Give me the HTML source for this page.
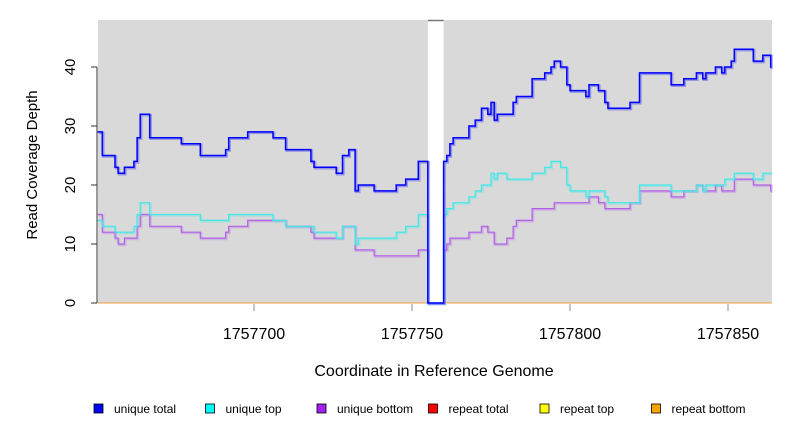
<!DOCTYPE html>
<html><head><meta charset="utf-8"><style>
body{margin:0;background:#fff;}
svg{display:block;font-family:"Liberation Sans",sans-serif;}
</style></head><body>
<svg id="chart" width="792" height="432" viewBox="0 0 792 432" xmlns="http://www.w3.org/2000/svg">
<rect x="98" y="20" width="674" height="283" fill="#d9d9d9"/>
<g id="gap"></g>
<g id="series"></g>
<g id="axes"></g>
<text transform="translate(37,165) rotate(-90)" text-anchor="middle" font-size="15" fill="#000">Read Coverage Depth</text>
<text x="434" y="376" text-anchor="middle" font-size="16" fill="#000">Coordinate in Reference Genome</text>
<g id="legend"></g>
</svg>
<script>
const xTicks=[1757700,1757750,1757800,1757850];
const yTicks=[0,10,20,30,40];
const gapRange=[1757755,1757760];
const totalPos=[1757650.5,1757652,1757656,1757657,1757659,1757662,1757663,1757664,1757667,1757677,1757683,1757691,1757692,1757698,1757706,1757710,1757718,1757719,1757726,1757728,1757730,1757732,1757733,1757738,1757745,1757748,1757752,1757755,1757760,1757761,1757762,1757763,1757768,1757770,1757772,1757774,1757775,1757776,1757777,1757782,1757783,1757788,1757792,1757794,1757795,1757797,1757799,1757800,1757805,1757806,1757809,1757811,1757812,1757819,1757822,1757832,1757836,1757840,1757842,1757843,1757846,1757848,1757849,1757851,1757852,1757858,1757861,1757863.5];
const totalVal=[29,25,23,22,23,24,28,32,28,27,25,26,28,29,28,26,24,23,22,25,26,19,20,19,20,21,24,0,24,25,27,28,30,31,33,32,34,31,32,34,35,38,39,40,41,40,37,36,35,37,36,34,33,34,39,37,38,39,38,39,40,39,40,41,43,41,42,40];
const topPos=[1757650.5,1757652,1757656,1757662,1757663,1757664,1757667,1757683,1757692,1757706,1757710,1757719,1757726,1757728,1757732,1757733,1757745,1757748,1757752,1757755,1757760,1757761,1757763,1757768,1757770,1757772,1757775,1757776,1757777,1757780,1757788,1757792,1757794,1757797,1757799,1757800,1757805,1757806,1757811,1757812,1757822,1757832,1757840,1757842,1757843,1757849,1757852,1757858,1757861];
const topVal=[14,13,12,13,15,17,15,14,15,14,13,12,11,13,10,11,12,13,15,0,15,16,17,18,19,20,22,21,22,21,22,23,24,23,20,19,18,19,18,17,20,19,20,19,20,21,22,21,22];
const botPos=[1757650.5,1757652,1757656,1757657,1757659,1757663,1757664,1757667,1757677,1757683,1757691,1757692,1757698,1757710,1757718,1757719,1757728,1757732,1757738,1757752,1757755,1757760,1757761,1757762,1757768,1757772,1757774,1757776,1757780,1757782,1757783,1757788,1757795,1757806,1757809,1757811,1757819,1757822,1757832,1757836,1757840,1757842,1757846,1757848,1757852,1757858,1757863.5];
const botVal=[15,12,11,10,11,13,15,13,12,11,12,13,14,13,12,11,13,9,8,9,0,9,10,11,12,13,12,10,11,13,14,16,17,18,17,16,17,19,18,19,20,19,20,19,21,20,19];
const legendLabels=["unique total","unique top","unique bottom","repeat total","repeat top","repeat bottom"];
const legendColors=["#0000ff","#00ffff","#a020f0","#ff0000","#ffff00","#ffa500"];

const NS="http://www.w3.org/2000/svg";
const X0=98,X1=772,Y0=303,Y1=20;
const xMin=1757650.5,xMax=1757863.8;
const xs=v=>254+(v-1757700)*3.16;
const ys=v=>303-v*5.9;
function mk(tag,attrs,parent){const e=document.createElementNS(NS,tag);for(const k in attrs)e.setAttribute(k,attrs[k]);parent.appendChild(e);return e;}

const gapG=document.getElementById('gap');
const gr=mk('rect',{x:xs(gapRange[0]),y:Y1,width:xs(gapRange[1])-xs(gapRange[0]),height:Y0-Y1,fill:'#fff'},gapG);


const gl=mk('line',{x1:xs(gapRange[0]),x2:xs(gapRange[1]),y1:Y1+0.5,y2:Y1+0.5,stroke:'#777','stroke-width':1.5},gapG);



const sG=document.getElementById('series');
const rep=mk('line',{x1:X0,x2:X1,y1:ys(0),y2:ys(0),stroke:'#f0a040','stroke-width':1},sG);


function stepPath(pos,val){let d='';for(let i=0;i<pos.length;i++){const x=xs(pos[i]),y=ys(val[i]);d+=(i===0?'M':'L')+x.toFixed(1)+','+y.toFixed(1);const nx=i+1<pos.length?xs(pos[i+1]):xs(xMax);d+='L'+nx.toFixed(1)+','+y.toFixed(1);}return d;}
function drawSeries(pos,val,color,w,name){
  const sh=mk('path',{d:stepPath(pos,val),fill:'none',stroke:color,'stroke-opacity':0.3,'stroke-width':w+1,transform:'translate(1,1)'},sG);
  
  
  const p=mk('path',{d:stepPath(pos,val),fill:'none',stroke:color,'stroke-width':w},sG);
  
  
}
drawSeries(botPos,botVal,'#b060e8',1.2,'unique-bottom-line');
drawSeries(topPos,topVal,'#40e8e8',1.2,'unique-top-line');
drawSeries(totalPos,totalVal,'#0000ff',1.5,'unique-total-line');

const aG=document.getElementById('axes');
const ya=mk('line',{x1:97,x2:97,y1:ys(0),y2:ys(40),stroke:'#333','stroke-width':1},aG);


yTicks.forEach(v=>{
  const t=mk('line',{x1:91,x2:97,y1:ys(v),y2:ys(v),stroke:'#333'},aG);
  
  
  const l=mk('text',{transform:`translate(75,${ys(v)}) rotate(-90)`,'text-anchor':'middle','font-size':15},aG);
  l.textContent=v;
  
  
});
xTicks.forEach(v=>{
  const t=mk('line',{x1:xs(v),x2:xs(v),y1:304,y2:311,stroke:'#888'},aG);
  
  
  const l=mk('text',{x:xs(v),y:339,'text-anchor':'middle','font-size':16},aG);
  l.textContent=v;
  
  
});

const lG=document.getElementById('legend');
legendLabels.forEach((lab,i)=>{
  const x=94+i*111.5;
  const r=mk('rect',{x:x,y:404,width:9,height:9,fill:legendColors[i],stroke:'#000','stroke-width':0.8},lG);
  
  
  const t=mk('text',{x:x+20,y:413,'font-size':12},lG);
  t.textContent=lab;
  
  
});
</script>
</body></html>
